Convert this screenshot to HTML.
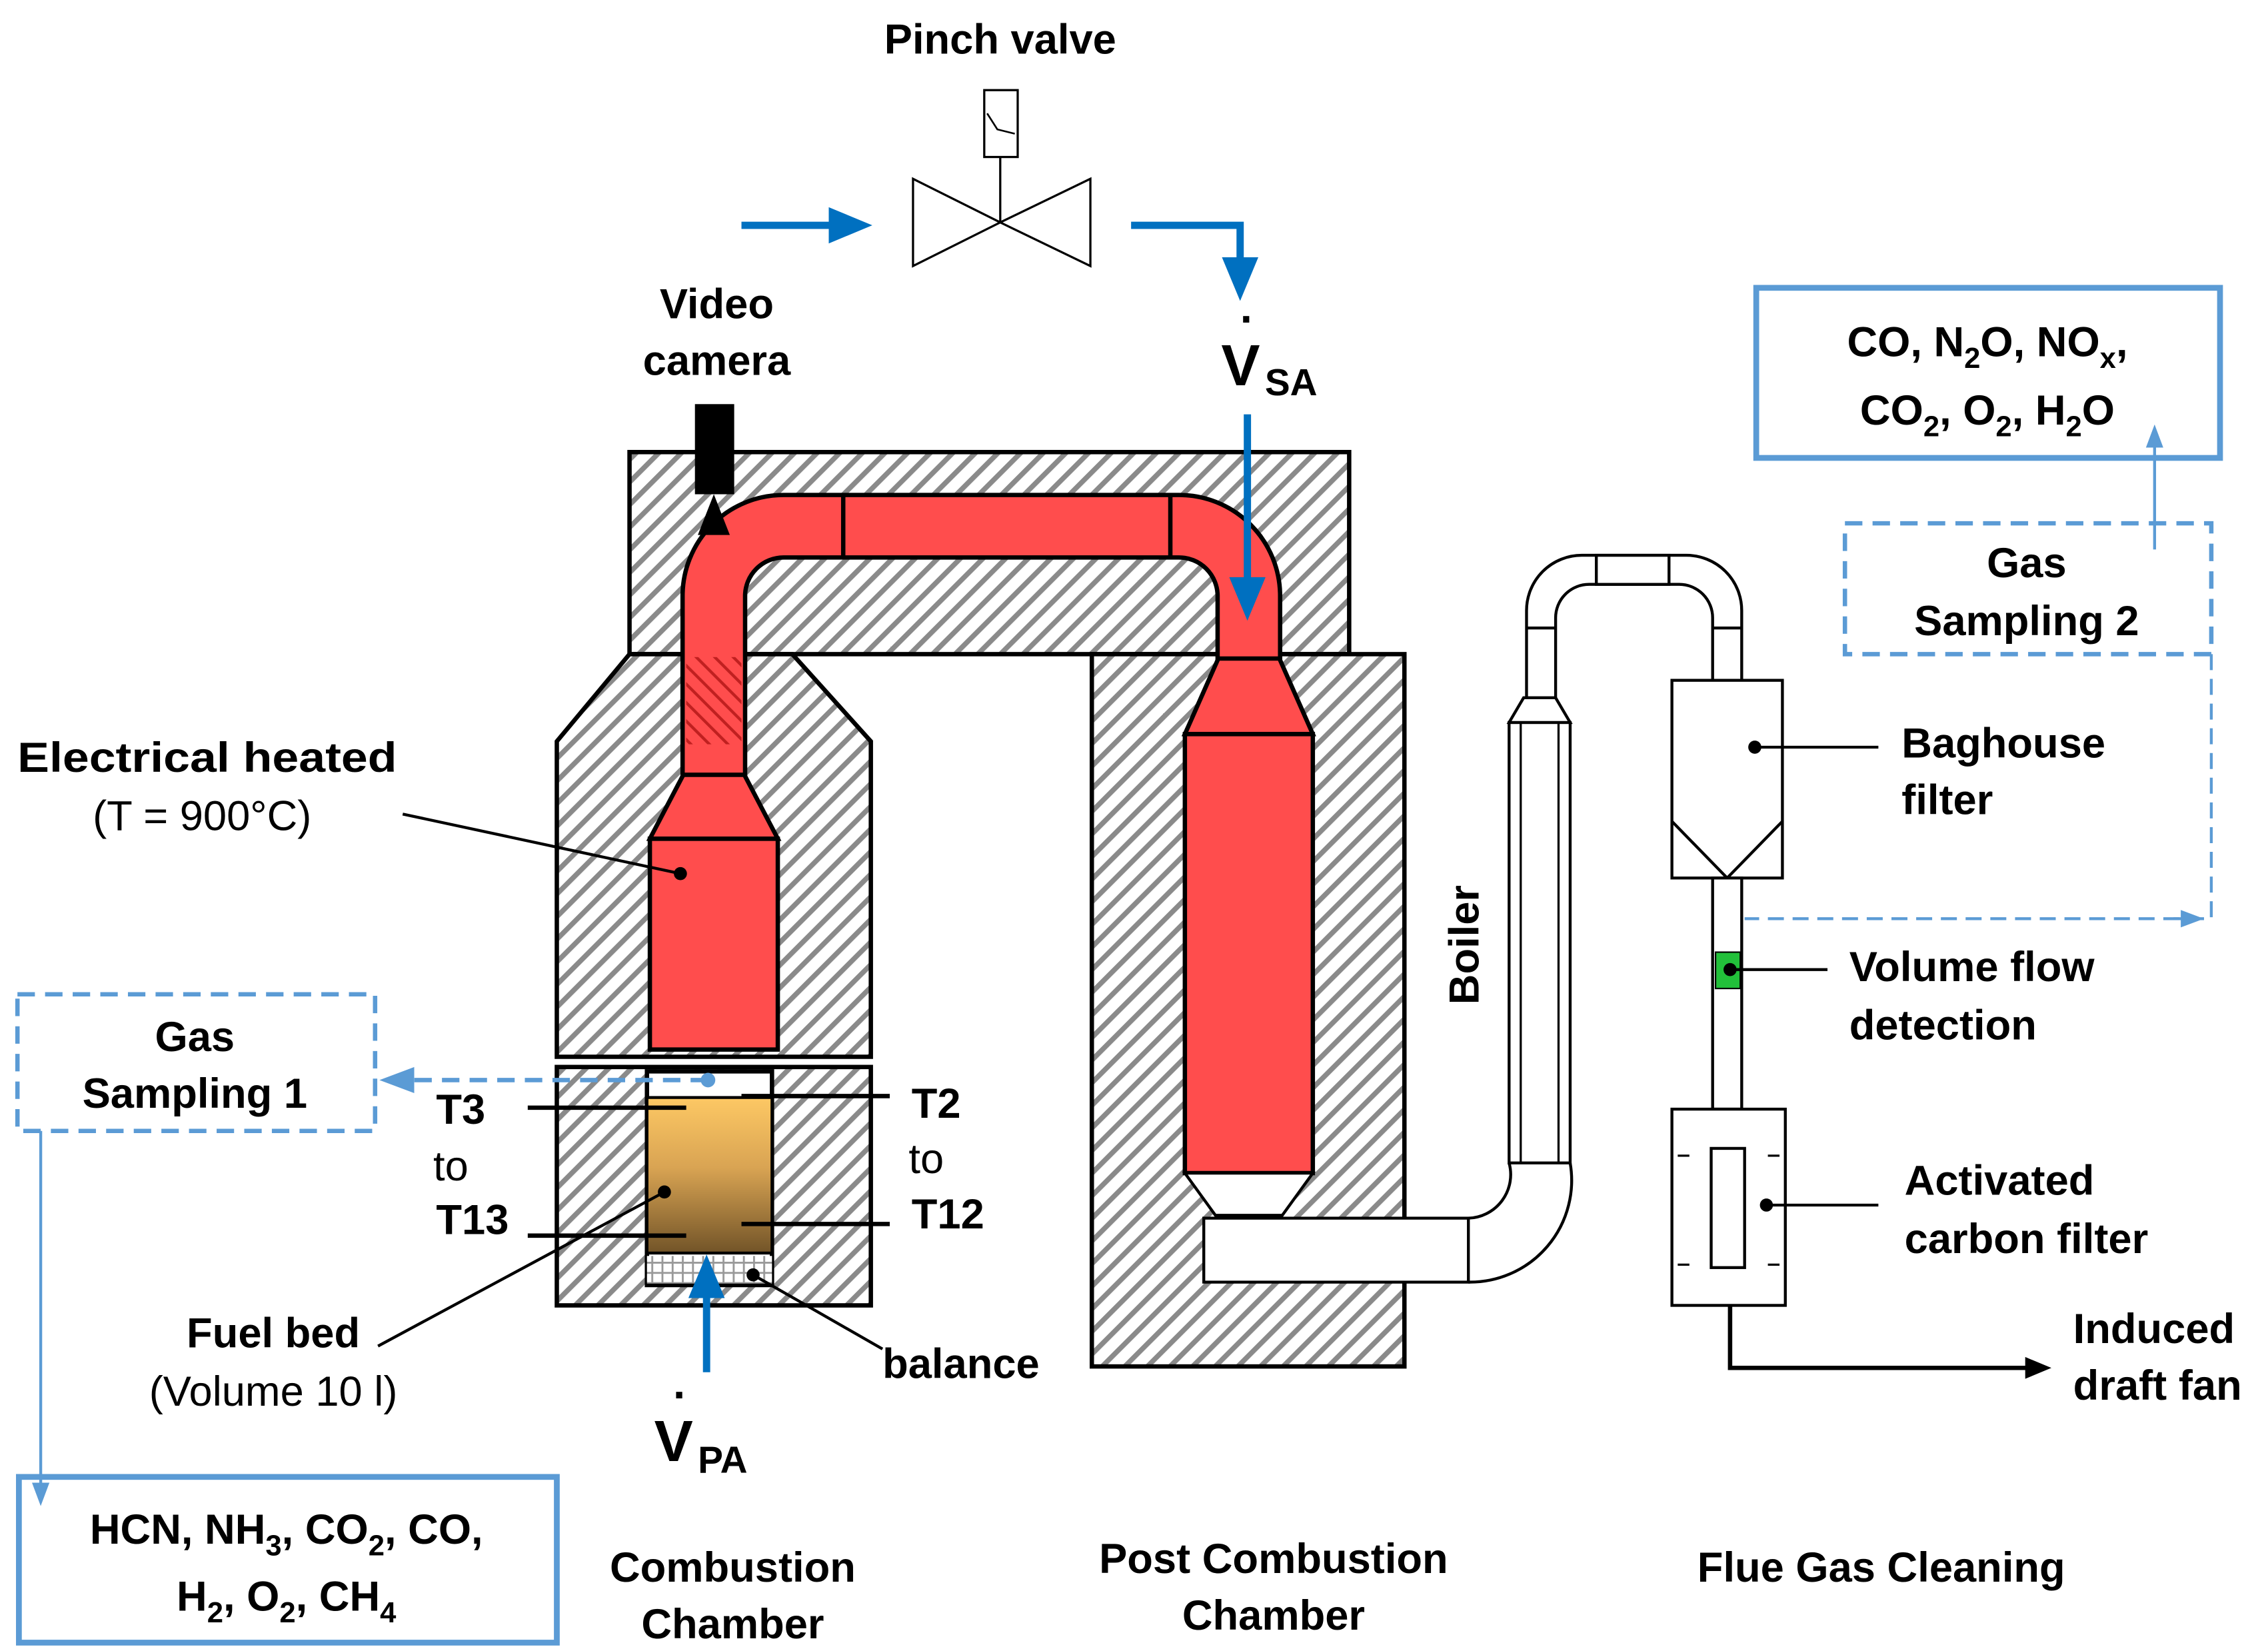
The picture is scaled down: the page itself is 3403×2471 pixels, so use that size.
<!DOCTYPE html>
<html><head><meta charset="utf-8"><style>
html,body{margin:0;padding:0;background:#fff;}
svg{display:block;}
text{font-family:"Liberation Sans",sans-serif;font-weight:bold;fill:#000;}
</style></head><body>
<svg width="3403" height="2471" viewBox="0 0 1560 1133" preserveAspectRatio="none" xmlns="http://www.w3.org/2000/svg">
<defs>
<pattern id="h" patternUnits="userSpaceOnUse" width="11" height="11" patternTransform="rotate(45)">
<rect width="11" height="11" fill="#fff"/>
<rect x="0" y="0" width="3.5" height="11" fill="#8a8a8a"/>
</pattern>
<pattern id="hr" patternUnits="userSpaceOnUse" width="9" height="9" patternTransform="rotate(-45)">
<rect width="9" height="9" fill="#ff4d4d"/>
<rect x="0" y="0" width="2" height="9" fill="#c02020"/>
</pattern>
<pattern id="g" patternUnits="userSpaceOnUse" width="7" height="7">
<rect width="7" height="7" fill="#fff"/>
<rect width="1.3" height="7" fill="#999"/><rect width="7" height="1.3" fill="#999"/>
</pattern>
<linearGradient id="fuel" x1="0" y1="0" x2="0" y2="1">
<stop offset="0" stop-color="#fdc864"/><stop offset="0.45" stop-color="#d9a453"/><stop offset="1" stop-color="#725428"/>
</linearGradient>
<marker id="ab" markerWidth="6" markerHeight="6" refX="3" refY="3" orient="auto" markerUnits="strokeWidth"><path d="M0,0.5 L6,3 L0,5.5 Z" fill="#0070c0"/></marker>
<marker id="al" markerWidth="8" markerHeight="8" refX="5" refY="4" orient="auto" markerUnits="strokeWidth"><path d="M0,1 L8,4 L0,7 Z" fill="#5b9bd5"/></marker>
<marker id="ak" markerWidth="6" markerHeight="6" refX="4" refY="3" orient="auto" markerUnits="strokeWidth"><path d="M0,0.5 L6,3 L0,5.5 Z" fill="#000"/></marker>
</defs>

<!-- hatched blocks -->
<rect x="433" y="311" width="495" height="139" fill="url(#h)" stroke="#000" stroke-width="3"/>
<polygon points="433,450 545,450 599,510 599,727 383,727 383,510" fill="url(#h)" stroke="#000" stroke-width="3"/>
<rect x="383" y="734" width="216" height="164" fill="url(#h)" stroke="#000" stroke-width="3"/>
<rect x="751" y="450" width="215" height="490" fill="url(#h)" stroke="#000" stroke-width="3"/>

<!-- red pipe -->
<path d="M491,535 V410 A48,48 0 0 1 539,362 H811 A48,48 0 0 1 859,410 V456" fill="none" stroke="#000" stroke-width="46"/>
<path d="M491,537 V410 A48,48 0 0 1 539,362 H811 A48,48 0 0 1 859,410 V458" fill="none" stroke="#ff4d4d" stroke-width="40"/>
<rect x="472" y="452" width="38" height="60" fill="url(#hr)"/>
<line x1="580" y1="341" x2="580" y2="384" stroke="#000" stroke-width="3"/>
<line x1="805" y1="341" x2="805" y2="384" stroke="#000" stroke-width="3"/>

<!-- left reactor -->
<polygon points="470,533 512,533 535,577 447,577" fill="#ff4d4d" stroke="#000" stroke-width="3"/>
<rect x="447" y="577" width="88" height="145" fill="#ff4d4d" stroke="#000" stroke-width="3"/>

<!-- post reactor -->
<polygon points="838,453 880,453 903,505 815,505" fill="#ff4d4d" stroke="#000" stroke-width="3"/>
<rect x="815" y="505" width="88" height="302" fill="#ff4d4d" stroke="#000" stroke-width="3"/>
<polygon points="815,807 903,807 882,836 836,836" fill="#fff" stroke="#000" stroke-width="2"/>
<rect x="828" y="838" width="182" height="44" fill="#fff" stroke="#000" stroke-width="2"/>

<!-- boiler -->
<path d="M1010,838 A30,30 0 0 0 1038,800" fill="none" stroke="#000" stroke-width="2"/>
<path d="M1010,882 A70,70 0 0 0 1080,800" fill="none" stroke="#000" stroke-width="2"/>
<rect x="1038" y="497" width="42" height="303" fill="#fff" stroke="#000" stroke-width="2"/>
<line x1="1046" y1="497" x2="1046" y2="800" stroke="#000" stroke-width="1.5"/>
<line x1="1072" y1="497" x2="1072" y2="800" stroke="#000" stroke-width="1.5"/>
<polygon points="1038,497 1080,497 1070,480 1048,480" fill="#fff" stroke="#000" stroke-width="2"/>
<path d="M1050,480 V420 A38,38 0 0 1 1088,382 H1160 A38,38 0 0 1 1198,420 V468" fill="none" stroke="#000" stroke-width="2"/>
<path d="M1070,480 V425 A23,23 0 0 1 1093,402 H1155 A23,23 0 0 1 1178,425 V468" fill="none" stroke="#000" stroke-width="2"/>
<line x1="1050" y1="432" x2="1070" y2="432" stroke="#000" stroke-width="2"/>
<line x1="1178" y1="432" x2="1198" y2="432" stroke="#000" stroke-width="2"/>
<rect x="1098" y="382" width="50" height="20" fill="#fff" stroke="#000" stroke-width="2"/>

<!-- baghouse -->
<rect x="1150" y="468" width="76" height="136" fill="#fff" stroke="#000" stroke-width="2"/>
<polyline points="1150,565 1188,604 1226,565" fill="none" stroke="#000" stroke-width="2"/>
<circle cx="1207" cy="514" r="4.5"/><line x1="1207" y1="514" x2="1292" y2="514" stroke="#000" stroke-width="2"/>
<rect x="1178" y="604" width="20" height="159" fill="#fff" stroke="#000" stroke-width="2"/>
<rect x="1180" y="655" width="17" height="25" fill="#22c03a" stroke="#000" stroke-width="1"/>
<circle cx="1190" cy="667" r="4.5"/><line x1="1190" y1="667" x2="1257" y2="667" stroke="#000" stroke-width="2"/>
<rect x="1150" y="763" width="78" height="135" fill="#fff" stroke="#000" stroke-width="2"/>
<rect x="1177" y="790" width="23" height="82" fill="#fff" stroke="#000" stroke-width="2"/>
<line x1="1154" y1="795" x2="1162" y2="795" stroke="#000" stroke-width="1.5"/>
<line x1="1216" y1="795" x2="1224" y2="795" stroke="#000" stroke-width="1.5"/>
<line x1="1154" y1="870" x2="1162" y2="870" stroke="#000" stroke-width="1.5"/>
<line x1="1216" y1="870" x2="1224" y2="870" stroke="#000" stroke-width="1.5"/>
<circle cx="1215" cy="829" r="4.5"/><line x1="1215" y1="829" x2="1292" y2="829" stroke="#000" stroke-width="2"/>
<polyline points="1190,898 1190,941 1405,941" fill="none" stroke="#000" stroke-width="3" marker-end="url(#ak)"/>

<!-- combustion bottom -->
<rect x="445" y="737" width="86" height="147" fill="#fff" stroke="#000" stroke-width="3"/>
<rect x="445" y="755" width="86" height="107" fill="url(#fuel)" stroke="#000" stroke-width="2"/>
<rect x="445" y="864" width="86" height="19" fill="url(#g)"/>
<line x1="363" y1="762" x2="472" y2="762" stroke="#000" stroke-width="3"/>
<line x1="363" y1="850" x2="472" y2="850" stroke="#000" stroke-width="3"/>
<line x1="510" y1="754" x2="612" y2="754" stroke="#000" stroke-width="3"/>
<line x1="510" y1="842" x2="612" y2="842" stroke="#000" stroke-width="3"/>
<line x1="487" y1="743" x2="270" y2="743" stroke="#5b9bd5" stroke-width="3" stroke-dasharray="12,7" marker-end="url(#al)"/>
<circle cx="487" cy="743" r="5" fill="#5b9bd5"/>
<line x1="486" y1="944" x2="486" y2="878" stroke="#0070c0" stroke-width="5" marker-end="url(#ab)"/>
<circle cx="457" cy="820" r="4.5"/><line x1="457" y1="820" x2="260" y2="926" stroke="#000" stroke-width="2"/>
<circle cx="518" cy="877" r="4.5"/><line x1="518" y1="877" x2="607" y2="928" stroke="#000" stroke-width="2"/>
<circle cx="468" cy="601" r="4.5"/><line x1="468" y1="601" x2="277" y2="560" stroke="#000" stroke-width="2"/>

<!-- camera -->
<rect x="478" y="278" width="27" height="62" fill="#000"/>
<polygon points="491,340 480,368 502,368" fill="#000"/>

<!-- pinch valve -->
<polygon points="628,123 628,183 688,153" fill="#fff" stroke="#000" stroke-width="1.5"/>
<polygon points="750,123 750,183 688,153" fill="#fff" stroke="#000" stroke-width="1.5"/>
<line x1="688" y1="108" x2="688" y2="153" stroke="#000" stroke-width="1.5"/>
<rect x="677" y="62" width="23" height="46" fill="#fff" stroke="#000" stroke-width="1.5"/>
<polyline points="679,78 686,89 698,92" fill="none" stroke="#000" stroke-width="1.2"/>
<line x1="510" y1="155" x2="585" y2="155" stroke="#0070c0" stroke-width="5" marker-end="url(#ab)"/>
<polyline points="778,155 853,155 853,192" fill="none" stroke="#0070c0" stroke-width="5" marker-end="url(#ab)"/>
<line x1="858" y1="285" x2="858" y2="412" stroke="#0070c0" stroke-width="5" marker-end="url(#ab)"/>

<!-- gas sampling -->
<rect x="12" y="684" width="246" height="94" fill="none" stroke="#5b9bd5" stroke-width="3" stroke-dasharray="12,7"/>
<line x1="28" y1="778" x2="28" y2="1030" stroke="#5b9bd5" stroke-width="2" marker-end="url(#al)"/>
<rect x="13" y="1016" width="370" height="114" fill="none" stroke="#5b9bd5" stroke-width="4"/>
<rect x="1269" y="360" width="252" height="90" fill="none" stroke="#5b9bd5" stroke-width="3" stroke-dasharray="12,7"/>
<polyline points="1521,450 1521,632 1200,632" fill="none" stroke="#5b9bd5" stroke-width="2" stroke-dasharray="11,6"/>
<line x1="1495" y1="632" x2="1510" y2="632" stroke="#5b9bd5" stroke-width="2" marker-end="url(#al)"/>
<line x1="1482" y1="378" x2="1482" y2="298" stroke="#5b9bd5" stroke-width="2" marker-end="url(#al)"/>
<rect x="1208" y="198" width="319" height="117" fill="none" stroke="#5b9bd5" stroke-width="4"/>

<!-- texts -->
<g font-size="29">
<text x="688" y="37" text-anchor="middle">Pinch valve</text>
<text x="493" y="219" text-anchor="middle">Video</text>
<text x="493" y="258" text-anchor="middle">camera</text>
<text x="12" y="531" textLength="261" lengthAdjust="spacingAndGlyphs">Electrical heated</text>
<text x="139" y="571" text-anchor="middle" font-weight="normal" style="font-weight:normal">(T = 900°C)</text>
<text x="134" y="723" text-anchor="middle">Gas</text>
<text x="134" y="762" text-anchor="middle">Sampling 1</text>
<text x="300" y="773">T3</text>
<text x="298" y="812" style="font-weight:normal">to</text>
<text x="300" y="849">T13</text>
<text x="627" y="769">T2</text>
<text x="625" y="807" style="font-weight:normal">to</text>
<text x="627" y="845">T12</text>
<text x="188" y="927" text-anchor="middle">Fuel bed</text>
<text x="188" y="967" text-anchor="middle" style="font-weight:normal">(Volume  10 l)</text>
<text x="607" y="948">balance</text>
<text x="1017" y="650" transform="rotate(-90 1017 650)" text-anchor="middle">Boiler</text>
<text x="1308" y="521">Baghouse</text>
<text x="1308" y="560">filter</text>
<text x="1272" y="675">Volume flow</text>
<text x="1272" y="715">detection</text>
<text x="1310" y="822">Activated</text>
<text x="1310" y="862">carbon filter</text>
<text x="1426" y="924">Induced</text>
<text x="1426" y="963">draft fan</text>
<text x="1394" y="397" text-anchor="middle">Gas</text>
<text x="1394" y="437" text-anchor="middle">Sampling 2</text>
<text x="504" y="1088" text-anchor="middle">Combustion</text>
<text x="504" y="1127" text-anchor="middle">Chamber</text>
<text x="876" y="1082" text-anchor="middle">Post Combustion</text>
<text x="876" y="1121" text-anchor="middle">Chamber</text>
<text x="1294" y="1088" text-anchor="middle">Flue Gas Cleaning</text>
<text x="1367" y="245" text-anchor="middle">CO, N<tspan font-size="20" dy="8">2</tspan><tspan dy="-8">O, NO</tspan><tspan font-size="20" dy="8">x</tspan><tspan dy="-8">,</tspan></text>
<text x="1367" y="292" text-anchor="middle">CO<tspan font-size="20" dy="8">2</tspan><tspan dy="-8">, O</tspan><tspan font-size="20" dy="8">2</tspan><tspan dy="-8">, H</tspan><tspan font-size="20" dy="8">2</tspan><tspan dy="-8">O</tspan></text>
<text x="197" y="1062" text-anchor="middle">HCN, NH<tspan font-size="20" dy="8">3</tspan><tspan dy="-8">, CO</tspan><tspan font-size="20" dy="8">2</tspan><tspan dy="-8">, CO,</tspan></text>
<text x="197" y="1108" text-anchor="middle">H<tspan font-size="20" dy="8">2</tspan><tspan dy="-8">, O</tspan><tspan font-size="20" dy="8">2</tspan><tspan dy="-8">, CH</tspan><tspan font-size="20" dy="8">4</tspan></text>
</g>
<text x="840" y="265" font-size="40">V</text><text x="870" y="272" font-size="26">SA</text>
<text x="853" y="222" font-size="30">.</text>
<text x="450" y="1005" font-size="40">V</text><text x="480" y="1013" font-size="26">PA</text>
<text x="463" y="962" font-size="30">.</text>
</svg>
</body></html>
